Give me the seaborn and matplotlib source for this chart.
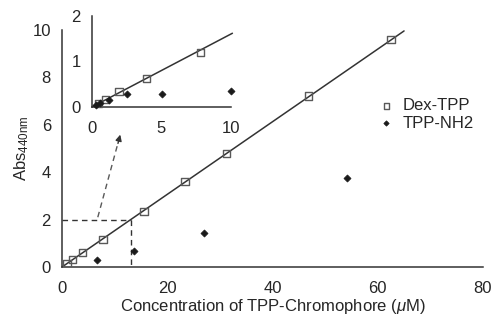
import numpy as np
import pandas as pd
import matplotlib
matplotlib.use('Agg')
import matplotlib.pyplot as plt
import seaborn as sns

# Dex-TPP (open squares)
dex_x = [0.98, 1.95, 3.9, 7.8, 15.6, 23.4, 31.25, 46.9, 62.5]
dex_y = [0.16, 0.31, 0.61, 1.17, 2.35, 3.6, 4.8, 7.22, 9.6]
# TPP-NH2 (filled diamonds), main panel
nh2_x = [6.7, 13.6, 27.0, 54.2]
nh2_y = [0.3, 0.66, 1.45, 3.74]

# inset values (0-10 uM)
ins_dex_x = [0.49, 0.98, 1.95, 3.9, 7.8]
ins_dex_y = [0.08, 0.17, 0.34, 0.63, 1.2]
ins_nh2_x = [0.3, 0.6, 1.25, 2.5, 5.0, 10.0]
ins_nh2_y = [0.04, 0.08, 0.15, 0.28, 0.28, 0.35]

# fitted calibration lines
line_x = [0, 65]
line_y = [0, 9.96]
ins_line_x = [0, 10.1]
ins_line_y = [0, 1.62]

xticks = [0, 20, 40, 60, 80]
yticks = [0, 2, 4, 6, 8, 10]
ins_xticks = [0, 5, 10]
ins_yticks = [0, 1, 2]

sns.set_style('white')
plt.rcParams['font.family'] = ['Liberation Sans', 'DejaVu Sans']
plt.rcParams['mathtext.fontset'] = 'custom'
plt.rcParams['mathtext.rm'] = 'Liberation Sans'
plt.rcParams['mathtext.it'] = 'Liberation Sans:italic'

ink = '0.2'
fig = plt.figure(figsize=(4.91, 3.26), dpi=100)
ax = fig.add_axes([0.1263, 0.181, 0.8574, 0.727])

sns.lineplot(x=line_x, y=line_y, ax=ax, color=ink, lw=1.1)
sns.scatterplot(x=dex_x, y=dex_y, ax=ax, marker='s', s=28, facecolor='none',
                edgecolor='0.35', linewidth=1.0, label='Dex-TPP', zorder=3)
sns.scatterplot(x=nh2_x, y=nh2_y, ax=ax, marker='D', s=13, color='0.1',
                edgecolor='0.1', linewidth=0.5, label='TPP-NH2', zorder=3)

# dashed guides to y = 2
ax.plot([0, 13.2], [2, 2], ls=(0, (4, 3)), color=ink, lw=1.0)
ax.plot([13.2, 13.2], [2, 0], ls=(0, (4, 3)), color=ink, lw=1.0)
ax.plot([6.8, 10.6], [2.1, 5.2], ls=(0, (4, 3)), color='0.35', lw=1.0)
ax.annotate('', xy=(11.2, 5.7), xytext=(10.5, 5.1),
            arrowprops=dict(arrowstyle='-|>', color=ink, lw=1.0, mutation_scale=9))

ax.set_xlim(0, 80)
ax.set_ylim(0, 10)
ax.set_xticks(xticks)
ax.set_yticks(yticks)
ax.tick_params(direction='out', length=5, width=1, colors=ink, labelsize=12, pad=3)
ax.tick_params(axis='x', pad=5)
ax.tick_params(axis='both', labelcolor='0.15')
sns.despine(ax=ax)
for sp in ['left', 'bottom']:
    ax.spines[sp].set_color(ink)
    ax.spines[sp].set_linewidth(1.1)
ax.set_xlabel('Concentration of TPP-Chromophore ($\\mu$M)', fontsize=12, color='0.15', labelpad=1)
ax.set_ylabel('Abs$_{440\\mathrm{nm}}$', fontsize=12, color='0.15', labelpad=1)

leg = ax.legend(loc='upper left', bbox_to_anchor=(0.735, 0.74), frameon=False,
                fontsize=12, handletextpad=0.5, labelspacing=0.15, borderaxespad=0,
                handlelength=1.0, markerscale=0.75)
for t in leg.get_texts():
    t.set_color('0.15')

# inset
axi = fig.add_axes([0.1874, 0.672, 0.2831, 0.279])
axi.patch.set_alpha(0)
sns.lineplot(x=ins_line_x, y=ins_line_y, ax=axi, color=ink, lw=1.1, clip_on=False)
sns.scatterplot(x=ins_dex_x, y=ins_dex_y, ax=axi, marker='s', s=28, facecolor='none',
                edgecolor='0.35', linewidth=1.0, zorder=3, clip_on=False)
sns.scatterplot(x=ins_nh2_x, y=ins_nh2_y, ax=axi, marker='D', s=13, color='0.1',
                edgecolor='0.1', linewidth=0.5, zorder=3, clip_on=False)
axi.set_xlim(0, 10)
axi.set_ylim(0, 2)
axi.set_xticks(ins_xticks)
axi.set_yticks(ins_yticks)
axi.tick_params(axis='y', direction='out', length=5, width=1, colors=ink, labelsize=12, pad=3)
axi.tick_params(axis='x', direction='in', length=5, width=1, colors=ink, labelsize=12, pad=10)
axi.tick_params(axis='both', labelcolor='0.15')
sns.despine(ax=axi)
for sp in ['left', 'bottom']:
    axi.spines[sp].set_color(ink)
    axi.spines[sp].set_linewidth(1.1)
if axi.get_legend() is not None:
    axi.get_legend().remove()

fig.savefig('out.png', dpi=100)
